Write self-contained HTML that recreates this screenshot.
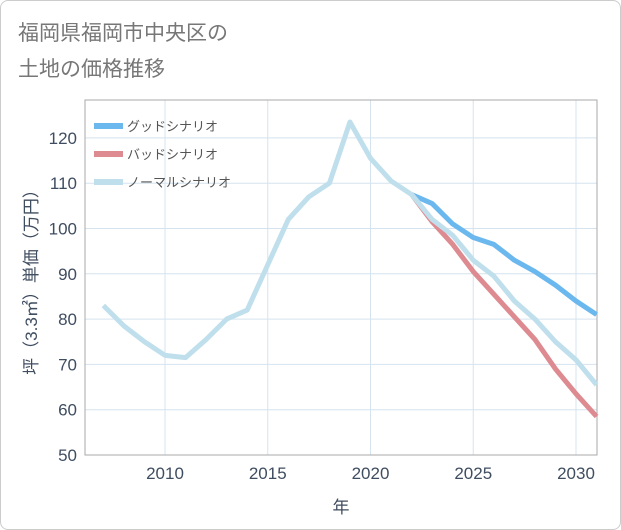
<!DOCTYPE html>
<html><head><meta charset="utf-8">
<style>
body{margin:0;background:#fff;}
.wrap{position:relative;width:619px;height:528px;border:1px solid #ccc;border-radius:8px;background:#fff;font-family:"Liberation Sans","Noto Sans CJK JP",sans-serif;}
svg text{font-family:"Liberation Sans","Noto Sans CJK JP",sans-serif;}
</style></head><body>
<div class="wrap">
<svg id="chart" width="621" height="530" style="position:absolute;left:-1px;top:-1px">
<text x="18" y="40" font-size="21" fill="#777">福岡県福岡市中央区の</text>
<text x="18" y="76" font-size="21" fill="#777">土地の価格推移</text>
<g id="grid"></g>
<rect x="85" y="100" width="512" height="355" fill="none" stroke="#aaa"/>
<g id="series"></g>
<g id="ticks"></g>
<text x="341" y="513" font-size="17" fill="#3f4d60" text-anchor="middle">年</text>
<text transform="translate(37,278) rotate(-90)" font-size="17" fill="#3f4d60" text-anchor="middle">坪（3.3㎡）単価（万円）</text>
<g id="legend"></g>
</svg>
</div>
<script>
const years=[2007,2008,2009,2010,2011,2012,2013,2014,2015,2016,2017,2018,2019,2020,2021,2022,2023,2024,2025,2026,2027,2028,2029,2030,2031];
const normal=[83,78.5,75,72,71.5,75.5,80,82,92,102,107,110,123.5,115.5,110.5,107.5,102,98.5,93,89.5,84,80,75,71,65.5];
const goodYears=[2022,2023,2024,2025,2026,2027,2028,2029,2030,2031];
const good=[107.5,105.5,101,98,96.5,93,90.5,87.5,84,81];
const badYears=[2022,2023,2024,2025,2026,2027,2028,2029,2030,2031];
const bad=[107.5,101.5,96.5,90.5,85.5,80.5,75.5,69,63.5,58.5];
const xTicks=[2010,2015,2020,2025,2030];
const yTicks=[50,60,70,80,90,100,110,120];
const X=y=>165+(y-2010)*20.55;
const Y=v=>455-(v-50)*4.53;
const NS="http://www.w3.org/2000/svg";
function mk(tag,attrs,parent){const e=document.createElementNS(NS,tag);for(const k in attrs)e.setAttribute(k,attrs[k]);document.getElementById(parent).appendChild(e);return e;}
xTicks.forEach(t=>{
 const l=mk('line',{x1:X(t),x2:X(t),y1:100,y2:455,stroke:'#d5e3ef'},'grid');
 
 
 const tx=mk('text',{x:X(t),y:479,'font-size':17,fill:'#3f4d60','text-anchor':'middle'},'ticks');
 tx.textContent=t;
 
 
});
yTicks.forEach(t=>{
 const l=mk('line',{x1:85,x2:597,y1:Y(t),y2:Y(t),stroke:'#d5e3ef'},'grid');
 
 
 const tx=mk('text',{x:77,y:Y(t)+6,'font-size':17,fill:'#3f4d60','text-anchor':'end'},'ticks');
 tx.textContent=t;
 
 
});
function line(xs,vs,color,name){
 const p=mk('polyline',{points:xs.map((y,i)=>X(y)+','+Y(vs[i])).join(' '),fill:'none',stroke:color,'stroke-width':5,'stroke-linejoin':'round'},'series');
 
 
}
line(goodYears,good,'#6bb8ef','good-scenario-line');
line(badYears,bad,'#dd8a90','bad-scenario-line');
line(years,normal,'#c0dfec','normal-scenario-line');
const legendLabels=['グッドシナリオ','バッドシナリオ','ノーマルシナリオ'];
const legendColors=['#6bb8ef','#dd8a90','#c0dfec'];
legendLabels.forEach((s,i)=>{
 const y=126+i*28;
 const r=mk('rect',{x:94,y:y-3,width:29,height:6,fill:legendColors[i]},'legend');
 
 
 const t=mk('text',{x:127,y:y+5,'font-size':13,fill:'#555'},'legend');
 t.textContent=s;
 
 
});
</script>
</body></html>
